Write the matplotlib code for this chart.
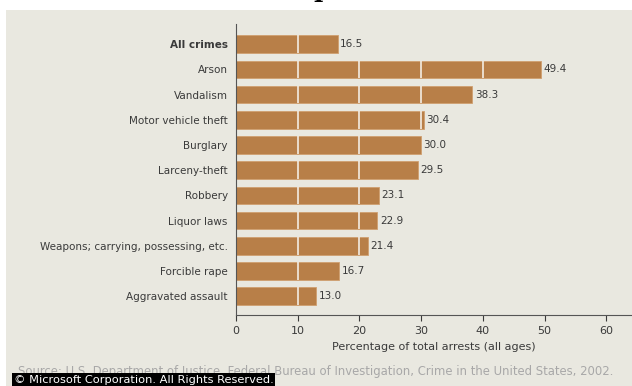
import matplotlib
matplotlib.use('Agg')
import matplotlib.pyplot as plt
from matplotlib.patches import Rectangle

# crimes and share of arrests (%)
crimes = ['All crimes', 'Arson', 'Vandalism', 'Motor vehicle theft', 'Burglary',
          'Larceny-theft', 'Robbery', 'Liquor laws',
          'Weapons; carrying, possessing, etc.', 'Forcible rape', 'Aggravated assault']
percent = [16.5, 49.4, 38.3, 30.4, 30.0, 29.5, 23.1, 22.9, 21.4, 16.7, 13.0]
xticks = [0, 10, 20, 30, 40, 50, 60]

bg = '#e9e8e0'
bar_col = '#b87f48'
txt = '#3a3a3a'

fig = plt.figure(figsize=(6.32, 3.86), dpi=100, facecolor='white')
fig.patches.append(Rectangle((6/632, 0), 1, 376/386, transform=fig.transFigure,
                             facecolor=bg, edgecolor='none', zorder=-5))

# clipped title, only the bottom shows
fig.text(313/632, 389.5/386, 'p', fontsize=18, family='DejaVu Serif', weight='bold',
         va='baseline', ha='left', color='black', zorder=-4)

ax = fig.add_axes([236/632, 71/386, 395/632, 291/386])
ax.set_facecolor('none')

ypos = list(range(len(crimes)))
ax.barh(ypos, percent, height=0.7, color=bar_col, edgecolor='#cf9f70', linewidth=0.6, zorder=2)

# white dividers inside bars at each 10%
for y, v in zip(ypos, percent):
    cuts = [t for t in xticks if 0 < t < v]
    ax.vlines(cuts, y - 0.35, y + 0.35, colors='#f3ede4', linewidth=1.2, zorder=3)
    ax.text(v + 0.4, y, f'{v:.1f}', va='center', ha='left', fontsize=7.5, color=txt)

ax.set_xlim(0, 64)
ax.set_ylim(10.75, -0.8)
ax.set_yticks(ypos)
ax.set_yticklabels(crimes, fontsize=7.5, color=txt)
ax.get_yticklabels()[0].set_fontweight('bold')
ax.tick_params(axis='y', length=0, pad=6)
ax.set_xticks(xticks)
ax.tick_params(axis='x', labelsize=8, colors=txt, length=4, width=0.8, pad=4)
ax.set_xlabel('Percentage of total arrests (all ages)', fontsize=8, color=txt, labelpad=4)

for s in ['top', 'right']:
    ax.spines[s].set_visible(False)
ax.spines['left'].set_color('#555555')
ax.spines['bottom'].set_color('#555555')

fig.text(18/632, 14/386,
         'Source: U.S. Department of Justice, Federal Bureau of Investigation, Crime in the United States, 2002.',
         fontsize=8.4, color='#a8a8a8', va='center', ha='left')
fig.text(14/632, 6/386, '\u00a9 Microsoft Corporation. All Rights Reserved.',
         fontsize=8.2, color='white', va='center', ha='left',
         bbox=dict(facecolor='black', edgecolor='none', pad=1.2))

fig.savefig('out.png', dpi=100, facecolor='white')
